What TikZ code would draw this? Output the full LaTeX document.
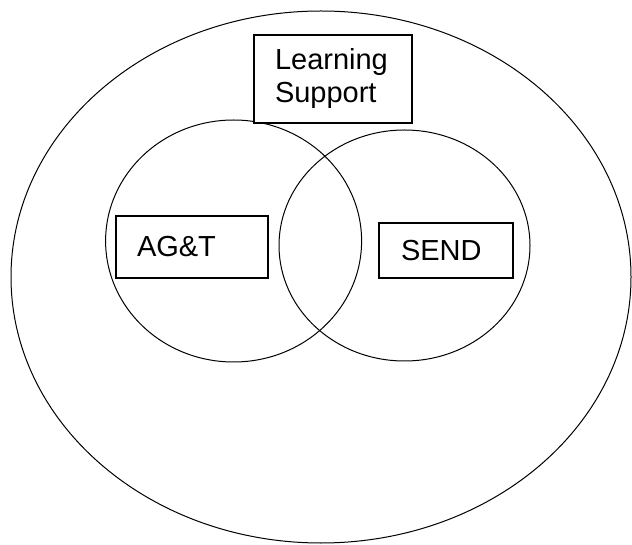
\documentclass[tikz,border=0pt]{standalone}
\usepackage{fontspec}
\setmainfont{Liberation Sans}
\usetikzlibrary{positioning}

\tikzset{
    group/.style = {draw, rectangle, fill = white, line width = 1.3pt, align = left,
                    inner xsep = 21pt, inner ysep = 0pt,
                    font = \fontsize{29}{33}\selectfont}
}

\begin{document}
\begin{tikzpicture}[x = 1pt, y = 1pt, line width = 1pt]

        \useasboundingbox (0,0) rectangle (632,544);

        % the whole school and the two groups inside it
        \draw (321,267) ellipse [x radius = 310, y radius = 266];
        \draw (233.6,303) ellipse [x radius = 128, y radius = 121];
        \draw (404.5,298.5) ellipse [x radius = 125.5, y radius = 115.5];

        % labels
        \node[group, text width = 116pt, minimum height = 88pt] (support) at (333,465) {Learning\\Support};
        \node[group, text width = 110pt, minimum height = 62pt] (agt) at (192,297) {AG\&T};
        \node[group, text width = 90pt, minimum height = 55pt, inner xsep = 22pt] (send) at (446,293.5) {SEND};

    \end{tikzpicture}
\end{document}
